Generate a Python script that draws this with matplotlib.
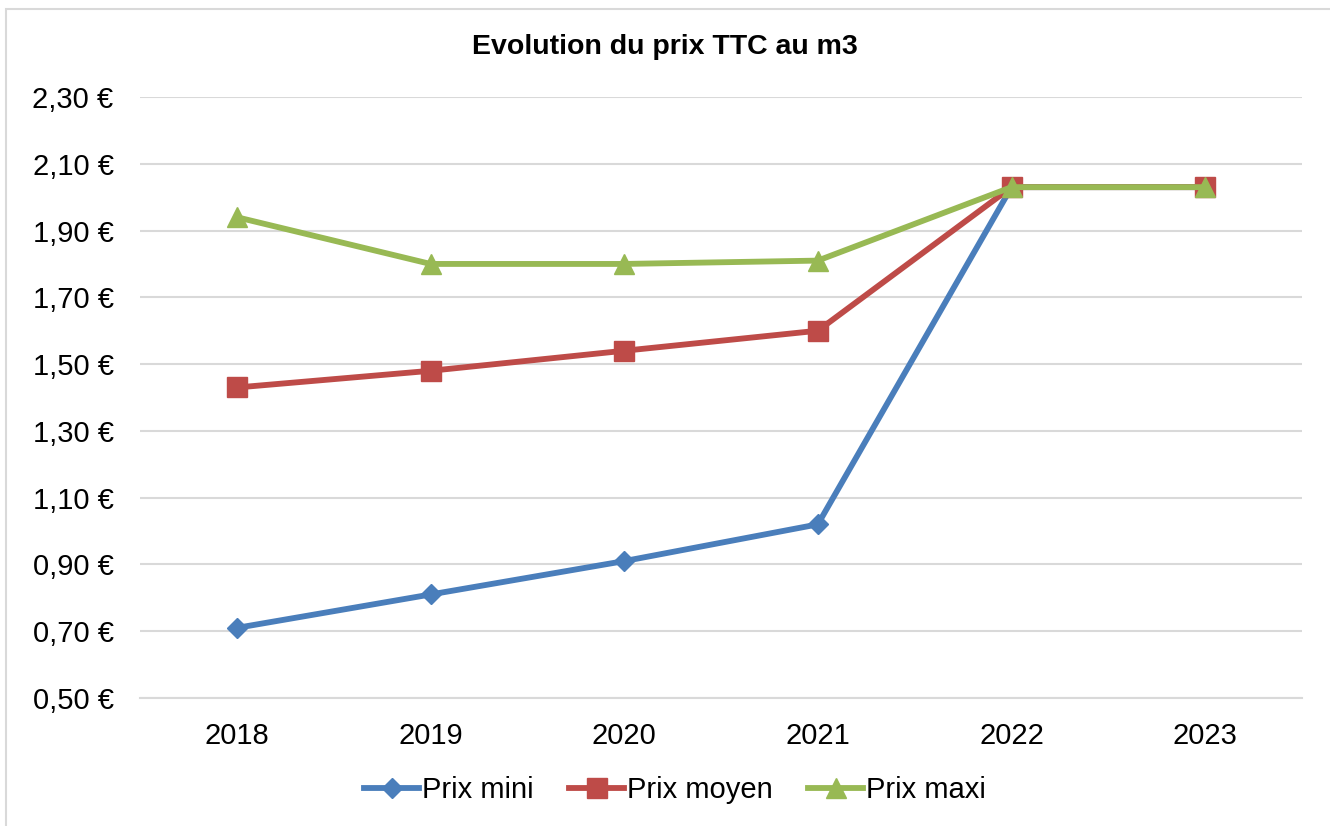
import matplotlib
matplotlib.use('Agg')
from matplotlib import pyplot as plt
from matplotlib.patches import Rectangle
from matplotlib.ticker import FuncFormatter

plt.rcParams['font.family'] = ['Liberation Sans', 'DejaVu Sans']

years = ['2018', '2019', '2020', '2021', '2022', '2023']
prix_mini = [0.71, 0.81, 0.91, 1.02, 2.03, 2.03]
prix_moyen = [1.43, 1.48, 1.54, 1.60, 2.03, 2.03]
prix_maxi = [1.94, 1.80, 1.80, 1.81, 2.03, 2.03]

fig = plt.figure(figsize=(13.3, 8.26), dpi=100)
ax = fig.add_axes([140/1330, 1-698/826, (1302-140)/1330, (698-97)/826])

# chart border
fig.patches.append(Rectangle((6/1330, -0.05), 1.1, 1-9/826+0.05, transform=fig.transFigure,
                             fill=False, edgecolor='#d9d9d9', linewidth=1.5))

x = list(range(len(years)))
ax.plot(x, prix_mini, color='#4a7ebb', lw=4.2, marker='D', ms=10, label='Prix mini')
ax.plot(x, prix_moyen, color='#be4b48', lw=4.2, marker='s', ms=14, label='Prix moyen')
ax.plot(x, prix_maxi, color='#98b954', lw=4.2, marker='^', ms=14.5, label='Prix maxi')

ax.set_xlim(-0.5, len(years)-0.5)
ax.set_ylim(0.5, 2.3)
ax.set_yticks([0.5, 0.7, 0.9, 1.1, 1.3, 1.5, 1.7, 1.9, 2.1, 2.3])
ax.yaxis.set_major_formatter(FuncFormatter(lambda v, p: f'{v:.2f} €'.replace('.', ',')))
ax.set_xticks(x)
ax.set_xticklabels(years)
ax.tick_params(axis='both', length=0, labelsize=21)
ax.tick_params(axis='y', pad=19)
ax.tick_params(axis='x', pad=17)
ax.grid(axis='y', color='#d9d9d9', lw=1.5)
ax.set_axisbelow(True)
for s in ['top', 'right', 'left']:
    ax.spines[s].set_visible(False)
ax.spines['bottom'].set_color('#d9d9d9')
ax.spines['bottom'].set_linewidth(1.5)

fig.text(0.5, 1-47/826, 'Evolution du prix TTC au m3', ha='center', va='center',
         fontsize=20.5, fontweight='bold')

fig.legend(loc='center', bbox_to_anchor=(0.5+10/1330, 1-790/826), ncol=3, frameon=False,
           fontsize=21, handlelength=1.9, handletextpad=0.1, columnspacing=1.2)

fig.savefig('out.png', dpi=100)
